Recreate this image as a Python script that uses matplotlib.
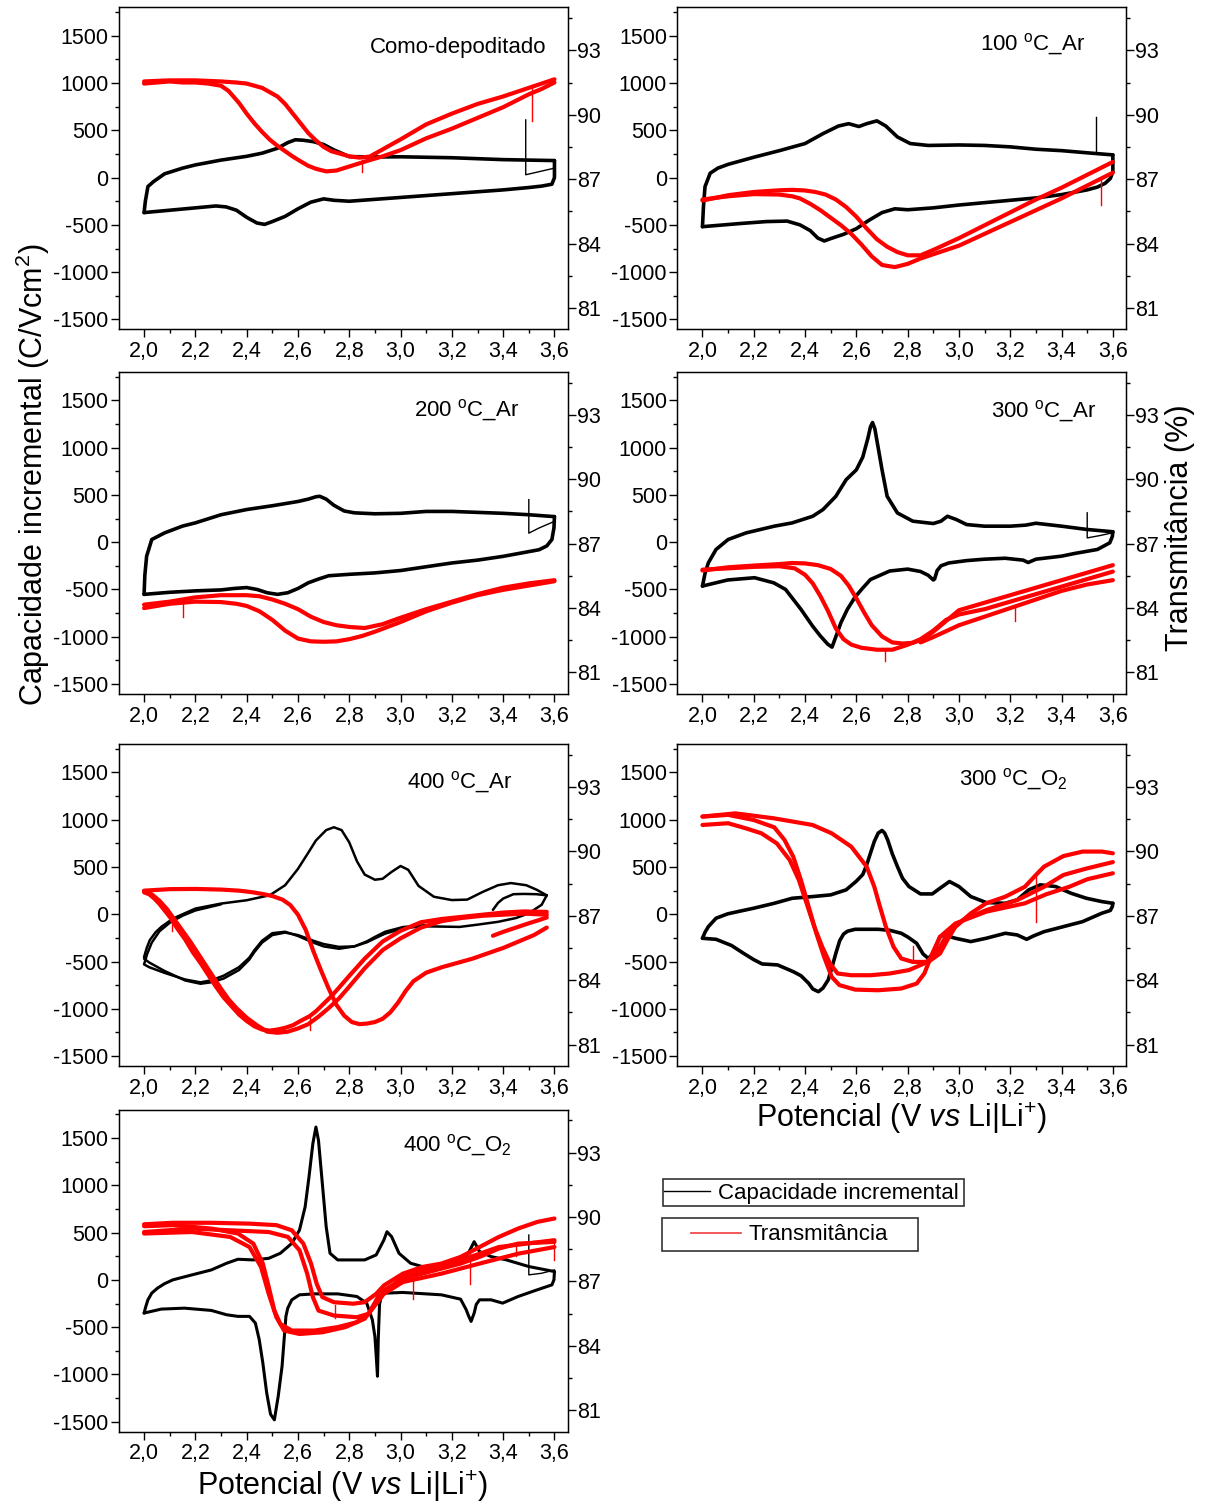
import matplotlib
matplotlib.use('Agg')
import matplotlib.pyplot as plt
from matplotlib.lines import Line2D
from matplotlib.patches import Rectangle
from matplotlib.ticker import MultipleLocator, FuncFormatter

plt.rcParams['font.family'] = ['Liberation Sans', 'DejaVu Sans']
plt.rcParams['mathtext.fontset'] = 'custom'
plt.rcParams['mathtext.rm'] = 'Liberation Sans'
plt.rcParams['mathtext.it'] = 'Liberation Sans:italic'
plt.rcParams['axes.unicode_minus'] = False

# ---------------- dados ----------------
# Como-depoditado
p1_cap_fwd_v = [2.00, 2.005, 2.015, 2.037, 2.08, 2.15, 2.20, 2.30, 2.40, 2.46, 2.52, 2.56, 2.59, 2.62, 2.66, 2.70, 2.74, 2.80, 2.90, 3.00, 3.10, 3.20, 3.30, 3.40, 3.50, 3.60]
p1_cap_fwd = [-370, -250, -95, -42, 40, 100, 134, 185, 225, 258, 310, 370, 400, 395, 380, 350, 293, 222, 218, 220, 215, 210, 200, 190, 185, 180]
p1_cap_rev_v = [3.60, 3.60, 3.59, 3.55, 3.50, 3.40, 3.30, 3.20, 3.10, 3.00, 2.90, 2.80, 2.74, 2.70, 2.65, 2.60, 2.55, 2.50, 2.47, 2.44, 2.40, 2.36, 2.32, 2.28, 2.20, 2.10, 2.00]
p1_cap_rev = [180, 0, -70, -90, -105, -130, -150, -170, -190, -210, -230, -250, -240, -225, -260, -330, -410, -465, -495, -480, -420, -345, -310, -300, -320, -345, -370]
p1_cap_start_v = [3.488, 3.488, 3.52, 3.56, 3.60]
p1_cap_start = [610, 30, 50, 75, 100]
p1_tr_a_v = [2.00, 2.05, 2.10, 2.15, 2.20, 2.25, 2.30, 2.33, 2.37, 2.40, 2.43, 2.46, 2.49, 2.52, 2.55, 2.58, 2.61, 2.64, 2.67, 2.71, 2.75, 2.79, 2.83, 2.87, 2.93, 3.00, 3.10, 3.20, 3.30, 3.40, 3.50, 3.55, 3.60]
p1_tr_a = [91.45, 91.5, 91.55, 91.5, 91.5, 91.45, 91.35, 91.1, 90.55, 90.05, 89.6, 89.2, 88.84, 88.55, 88.3, 88.05, 87.83, 87.62, 87.48, 87.36, 87.4, 87.55, 87.7, 87.85, 88.06, 88.35, 88.9, 89.35, 89.85, 90.35, 90.95, 91.2, 91.5]
p1_tr_b_v = [2.00, 2.10, 2.20, 2.30, 2.36, 2.40, 2.46, 2.52, 2.55, 2.58, 2.61, 2.64, 2.67, 2.70, 2.73, 2.76, 2.80, 2.84, 2.88, 2.94, 3.00, 3.10, 3.20, 3.30, 3.40, 3.50, 3.60]
p1_tr_b = [91.55, 91.6, 91.6, 91.55, 91.5, 91.45, 91.25, 90.85, 90.5, 90.05, 89.6, 89.15, 88.8, 88.5, 88.3, 88.2, 88.06, 88.0, 88.05, 88.45, 88.85, 89.55, 90.05, 90.5, 90.85, 91.25, 91.65]
p1_tr_spike_v = [3.513, 3.513, 2.85, 2.85]
p1_tr_spike = [91.3, 89.7, 87.9, 87.35]

# 100 oC_Ar
p2_cap_fwd_v = [2.00, 2.004, 2.01, 2.03, 2.06, 2.10, 2.20, 2.30, 2.40, 2.47, 2.53, 2.57, 2.61, 2.64, 2.68, 2.715, 2.76, 2.81, 2.88, 3.00, 3.10, 3.20, 3.30, 3.40, 3.50, 3.60]
p2_cap_fwd = [-519, -300, -95, 46, 100, 140, 215, 285, 360, 465, 545, 570, 540, 570, 600, 545, 430, 360, 340, 345, 340, 325, 300, 285, 262, 240]
p2_cap_spike_v = [3.535, 3.535]
p2_cap_spike = [258, 640]
p2_cap_rev_v = [3.60, 3.60, 3.59, 3.57, 3.54, 3.50, 3.40, 3.30, 3.20, 3.10, 3.00, 2.90, 2.80, 2.75, 2.70, 2.65, 2.60, 2.55, 2.50, 2.475, 2.45, 2.42, 2.38, 2.33, 2.25, 2.15, 2.00]
p2_cap_rev = [240, 60, -10, -60, -100, -130, -180, -215, -240, -265, -290, -320, -340, -330, -370, -450, -540, -600, -645, -670, -640, -560, -500, -460, -465, -485, -519]
p2_tr_a_v = [2.00, 2.10, 2.20, 2.30, 2.35, 2.38, 2.42, 2.46, 2.50, 2.54, 2.58, 2.62, 2.66, 2.70, 2.75, 2.80, 2.85, 2.90, 3.00, 3.10, 3.20, 3.30, 3.40, 3.50, 3.60]
p2_tr_a = [86.05, 86.2, 86.3, 86.28, 86.2, 86.1, 85.85, 85.55, 85.2, 84.85, 84.45, 83.95, 83.4, 83.0, 82.9, 83.05, 83.3, 83.5, 83.9, 84.45, 85.0, 85.55, 86.1, 86.7, 87.3]
p2_tr_b_v = [2.00, 2.10, 2.20, 2.30, 2.35, 2.40, 2.44, 2.48, 2.52, 2.56, 2.60, 2.64, 2.68, 2.72, 2.76, 2.80, 2.85, 2.90, 3.00, 3.10, 3.20, 3.30, 3.40, 3.50, 3.60]
p2_tr_b = [86.0, 86.25, 86.4, 86.48, 86.5, 86.47, 86.4, 86.28, 86.05, 85.7, 85.25, 84.7, 84.2, 83.85, 83.6, 83.45, 83.45, 83.7, 84.25, 84.85, 85.45, 86.05, 86.6, 87.2, 87.8]
p2_tr_spike_v = [3.555, 3.555]
p2_tr_spike = [87.05, 85.8]

# 200 oC_Ar
p3_cap_fwd_v = [2.00, 2.003, 2.01, 2.03, 2.08, 2.15, 2.20, 2.30, 2.40, 2.50, 2.60, 2.64, 2.67, 2.685, 2.71, 2.74, 2.78, 2.82, 2.90, 3.00, 3.10, 3.20, 3.30, 3.40, 3.50, 3.60]
p3_cap_fwd = [-552, -350, -148, 28, 98, 170, 204, 290, 345, 385, 430, 455, 480, 485, 455, 390, 330, 310, 300, 305, 325, 325, 315, 305, 290, 270]
p3_cap_rev_v = [3.60, 3.598, 3.59, 3.57, 3.54, 3.50, 3.40, 3.30, 3.20, 3.10, 3.00, 2.90, 2.80, 2.72, 2.68, 2.64, 2.60, 2.56, 2.52, 2.48, 2.44, 2.40, 2.35, 2.30, 2.20, 2.10, 2.00]
p3_cap_rev = [270, 150, 28, -40, -80, -100, -150, -190, -220, -260, -300, -325, -340, -355, -390, -430, -490, -535, -552, -535, -500, -480, -490, -505, -515, -530, -552]
p3_cap_start_v = [3.50, 3.50, 3.54, 3.60]
p3_cap_start = [450, 95, 150, 220]
p3_tr_a_v = [2.00, 2.10, 2.20, 2.30, 2.40, 2.45, 2.50, 2.55, 2.60, 2.65, 2.70, 2.75, 2.80, 2.86, 2.93, 3.00, 3.10, 3.20, 3.30, 3.40, 3.50, 3.60]
p3_tr_a = [84.16, 84.3, 84.5, 84.6, 84.6, 84.55, 84.4, 84.2, 83.95, 83.6, 83.35, 83.2, 83.12, 83.07, 83.25, 83.55, 83.95, 84.3, 84.65, 84.95, 85.15, 85.3]
p3_tr_b_v = [2.00, 2.10, 2.20, 2.30, 2.36, 2.40, 2.45, 2.50, 2.55, 2.60, 2.65, 2.70, 2.75, 2.80, 2.85, 2.90, 3.00, 3.10, 3.20, 3.30, 3.40, 3.50, 3.60]
p3_tr_b = [84.0, 84.2, 84.3, 84.28, 84.2, 84.1, 83.85, 83.45, 82.95, 82.58, 82.45, 82.43, 82.45, 82.55, 82.7, 82.9, 83.35, 83.85, 84.25, 84.6, 84.85, 85.05, 85.25]
p3_tr_spike_v = [2.15, 2.15]
p3_tr_spike = [84.25, 83.6]

# 300 oC_Ar
p4_cap_fwd_v = [2.00, 2.01, 2.023, 2.053, 2.10, 2.17, 2.28, 2.35, 2.43, 2.47, 2.52, 2.56, 2.60, 2.625, 2.645, 2.655, 2.663, 2.672, 2.685, 2.70, 2.72, 2.76, 2.82, 2.90, 2.93, 2.955, 2.99, 3.03, 3.10, 3.20, 3.26, 3.30, 3.40, 3.50, 3.60]
p4_cap_fwd = [-464, -330, -218, -77, 28, 98, 169, 204, 274, 345, 485, 660, 765, 900, 1100, 1220, 1265, 1200, 1000, 767, 485, 309, 222, 197, 222, 274, 239, 186, 169, 169, 180, 200, 169, 134, 110]
p4_cap_rev_v = [3.60, 3.598, 3.588, 3.54, 3.45, 3.40, 3.30, 3.27, 3.25, 3.18, 3.10, 3.03, 2.96, 2.93, 2.915, 2.905, 2.90, 2.88, 2.85, 2.80, 2.73, 2.655, 2.625, 2.595, 2.565, 2.54, 2.52, 2.505, 2.489, 2.459, 2.429, 2.384, 2.354, 2.324, 2.278, 2.203, 2.098, 2.00]
p4_cap_rev = [110, 60, -7, -77, -120, -148, -180, -215, -190, -170, -180, -195, -220, -250, -300, -390, -400, -350, -310, -285, -305, -395, -485, -580, -710, -850, -1000, -1110, -1080, -990, -886, -710, -605, -500, -430, -376, -400, -464]
p4_cap_start_v = [3.50, 3.50, 3.55, 3.60]
p4_cap_start = [310, 45, 70, 100]
p4_tr_a_v = [2.00, 2.10, 2.20, 2.30, 2.36, 2.40, 2.43, 2.46, 2.49, 2.52, 2.55, 2.58, 2.62, 2.68, 2.74, 2.80, 2.85, 2.90, 2.95, 3.00, 3.10, 3.20, 3.30, 3.40, 3.50, 3.60]
p4_tr_a = [85.79, 85.85, 85.92, 85.95, 85.85, 85.55, 85.15, 84.55, 83.85, 83.05, 82.55, 82.3, 82.15, 82.06, 82.06, 82.29, 82.55, 82.95, 83.45, 83.7, 83.95, 84.3, 84.65, 85.0, 85.35, 85.7]
p4_tr_b_v = [2.00, 2.10, 2.20, 2.30, 2.35, 2.40, 2.45, 2.50, 2.54, 2.57, 2.60, 2.63, 2.66, 2.70, 2.74, 2.78, 2.82, 2.86, 2.90, 2.95, 3.00, 3.10, 3.20, 3.30, 3.40, 3.50, 3.60]
p4_tr_b = [85.75, 85.9, 85.98, 86.05, 86.1, 86.08, 86.0, 85.82, 85.5, 85.05, 84.45, 83.8, 83.2, 82.68, 82.4, 82.35, 82.38, 82.55, 82.9, 83.4, 83.9, 84.25, 84.6, 84.95, 85.3, 85.65, 86.0]
p4_tr_c_v = [2.85, 2.90, 3.00, 3.10, 3.20, 3.30, 3.40, 3.50, 3.60]
p4_tr_c = [82.4, 82.65, 83.2, 83.6, 84.0, 84.4, 84.8, 85.1, 85.3]
p4_tr_spike_v = [2.71, 2.71, 3.22, 3.22]
p4_tr_spike = [82.1, 81.55, 84.0, 83.4]

# 400 oC_Ar
p5_cap_fwd_v = [2.00, 2.01, 2.022, 2.045, 2.067, 2.10, 2.127, 2.20, 2.30, 2.40, 2.49, 2.55, 2.60, 2.64, 2.67, 2.71, 2.74, 2.77, 2.80, 2.83, 2.86, 2.90, 2.93, 2.965, 3.00, 3.03, 3.07, 3.13, 3.20, 3.26, 3.32, 3.38, 3.43, 3.49, 3.53, 3.57]
p5_cap_fwd = [-452, -360, -275, -190, -134, -70, -28, 60, 113, 148, 201, 307, 480, 650, 780, 890, 920, 890, 760, 560, 420, 365, 375, 448, 510, 470, 300, 185, 150, 155, 236, 307, 330, 307, 260, 200]
p5_cap_rev_v = [3.57, 3.55, 3.50, 3.45, 3.38, 3.30, 3.23, 3.15, 3.08, 3.01, 2.94, 2.90, 2.87, 2.82, 2.76, 2.70, 2.66, 2.60, 2.55, 2.50, 2.46, 2.43, 2.41, 2.37, 2.31, 2.26, 2.22, 2.16, 2.08, 2.02, 2.00]
p5_cap_rev = [200, 100, 10, -40, -80, -110, -134, -130, -127, -150, -205, -255, -295, -340, -345, -315, -280, -220, -194, -220, -300, -400, -480, -590, -680, -720, -735, -700, -600, -510, -470]
p5_cap2_v = [3.10, 3.01, 2.94, 2.90, 2.87, 2.82, 2.76, 2.70, 2.66, 2.60, 2.55, 2.50, 2.46, 2.43, 2.41, 2.37, 2.31, 2.26, 2.22, 2.16, 2.08, 2.02, 2.00, 2.012, 2.03, 2.06, 2.10, 2.15, 2.20, 2.30]
p5_cap2 = [-115, -135, -185, -240, -285, -340, -365, -340, -300, -230, -185, -200, -280, -380, -460, -560, -650, -700, -720, -690, -620, -560, -530, -420, -300, -180, -90, -15, 40, 105]
p5_cap_inner_v = [3.36, 3.38, 3.40, 3.44, 3.48, 3.53, 3.57]
p5_cap_inner = [46, 120, 166, 212, 215, 212, 200]
p5_tr_a_v = [2.00, 2.02, 2.04, 2.06, 2.08, 2.10, 2.13, 2.16, 2.19, 2.22, 2.25, 2.28, 2.31, 2.34, 2.37, 2.40, 2.43, 2.46, 2.49, 2.52, 2.55, 2.58, 2.61, 2.645, 2.67, 2.70, 2.73, 2.76, 2.80, 2.86, 2.93, 3.00, 3.08, 3.16, 3.24, 3.32, 3.40, 3.48, 3.57]
p5_tr_a = [88.09, 88.0, 87.8, 87.55, 87.25, 86.95, 86.4, 85.9, 85.3, 84.8, 84.25, 83.7, 83.2, 82.8, 82.4, 82.1, 81.85, 81.7, 81.65, 81.7, 81.78, 81.9, 82.1, 82.32, 82.55, 82.9, 83.25, 83.65, 84.2, 85.0, 85.8, 86.3, 86.7, 86.85, 86.95, 87.05, 87.15, 87.2, 87.18]
p5_tr_a2_v = [2.00, 2.03, 2.06, 2.09, 2.12, 2.15, 2.18, 2.21, 2.24, 2.27, 2.30, 2.33, 2.36, 2.40, 2.44, 2.48, 2.52, 2.56, 2.60, 2.64, 2.68, 2.72, 2.76, 2.80, 2.86, 2.93, 3.00, 3.08, 3.16, 3.24, 3.32, 3.40, 3.48, 3.57]
p5_tr_a2 = [88.15, 88.0, 87.7, 87.3, 86.8, 86.3, 85.8, 85.25, 84.7, 84.15, 83.6, 83.1, 82.7, 82.25, 81.9, 81.6, 81.55, 81.6, 81.75, 81.95, 82.3, 82.7, 83.15, 83.7, 84.55, 85.4, 85.95, 86.45, 86.75, 86.9, 87.0, 87.05, 87.1, 87.05]
p5_tr_b_v = [2.00, 2.10, 2.20, 2.30, 2.37, 2.42, 2.46, 2.50, 2.54, 2.57, 2.60, 2.63, 2.66, 2.69, 2.72, 2.75, 2.78, 2.81, 2.84, 2.87, 2.90, 2.93, 2.96, 2.99, 3.02, 3.05, 3.10, 3.16, 3.22, 3.28, 3.34, 3.40, 3.46, 3.52, 3.57]
p5_tr_b = [88.17, 88.24, 88.25, 88.22, 88.17, 88.1, 88.02, 87.92, 87.75, 87.5, 87.05, 86.35, 85.35, 84.45, 83.6, 82.85, 82.35, 82.05, 81.95, 81.98, 82.05, 82.2, 82.5, 82.95, 83.5, 83.95, 84.35, 84.6, 84.8, 85.0, 85.25, 85.5, 85.8, 86.1, 86.45]
p5_tr_start_v = [3.36, 3.40, 3.45, 3.50, 3.54, 3.57]
p5_tr_start = [86.07, 86.25, 86.45, 86.65, 86.8, 86.92]
p5_tr_spike_v = [2.645, 2.645, 2.11, 2.11]
p5_tr_spike = [82.32, 81.7, 86.8, 86.3]

# 300 oC_O2
p6_cap_fwd_v = [2.00, 2.01, 2.023, 2.053, 2.098, 2.15, 2.20, 2.28, 2.35, 2.43, 2.50, 2.56, 2.60, 2.625, 2.64, 2.655, 2.67, 2.685, 2.70, 2.71, 2.722, 2.74, 2.76, 2.78, 2.805, 2.85, 2.896, 2.926, 2.963, 3.00, 3.046, 3.106, 3.18, 3.227, 3.272, 3.317, 3.377, 3.437, 3.497, 3.557, 3.60]
p6_cap_fwd = [-254, -190, -131, -42, 4, 35, 64, 116, 169, 187, 205, 258, 350, 420, 520, 646, 770, 858, 886, 860, 787, 640, 505, 380, 293, 215, 215, 275, 346, 293, 187, 124, 116, 152, 258, 311, 293, 222, 169, 134, 116]
p6_cap_rev_v = [3.60, 3.598, 3.59, 3.557, 3.482, 3.407, 3.332, 3.29, 3.264, 3.227, 3.181, 3.106, 3.046, 2.986, 2.941, 2.925, 2.91, 2.895, 2.88, 2.86, 2.835, 2.80, 2.775, 2.73, 2.685, 2.64, 2.595, 2.565, 2.55, 2.535, 2.52, 2.505, 2.49, 2.47, 2.452, 2.43, 2.414, 2.384, 2.354, 2.293, 2.26, 2.233, 2.20, 2.16, 2.113, 2.053, 2.00]
p6_cap_rev = [116, 81, 40, 11, -78, -131, -184, -230, -265, -219, -201, -254, -289, -254, -219, -240, -342, -430, -466, -420, -307, -240, -201, -170, -159, -159, -159, -180, -210, -280, -413, -560, -695, -780, -819, -790, -730, -650, -607, -536, -530, -526, -480, -413, -330, -265, -254]
p6_tr_l1_v = [2.00, 2.10, 2.17, 2.23, 2.29, 2.34, 2.376, 2.406, 2.436, 2.467, 2.497, 2.527, 2.58, 2.655, 2.73, 2.805, 2.865, 2.90, 2.926, 2.956, 3.016, 3.106, 3.227, 3.332, 3.407, 3.497, 3.60]
p6_tr_l1 = [91.23, 91.31, 91.07, 90.84, 90.37, 89.6, 88.66, 87.58, 86.49, 85.55, 84.78, 84.31, 84.23, 84.23, 84.31, 84.47, 84.78, 85.1, 85.55, 86.18, 86.8, 87.26, 87.73, 88.35, 88.9, 89.2, 89.5]
p6_tr_l2_v = [2.00, 2.10, 2.20, 2.28, 2.32, 2.354, 2.384, 2.414, 2.444, 2.474, 2.504, 2.534, 2.595, 2.685, 2.775, 2.835, 2.865, 2.896, 2.926, 2.986, 3.106, 3.257, 3.34, 3.43, 3.50, 3.60]
p6_tr_l2 = [91.62, 91.7, 91.46, 91.12, 90.53, 89.75, 88.66, 87.42, 86.18, 85.09, 84.15, 83.77, 83.56, 83.53, 83.61, 83.84, 84.31, 85.24, 86.02, 86.64, 87.19, 87.58, 88.0, 88.35, 88.7, 88.98]
p6_tr_r_v = [2.00, 2.128, 2.278, 2.429, 2.504, 2.58, 2.64, 2.67, 2.692, 2.715, 2.745, 2.775, 2.82, 2.88, 2.926, 2.956, 2.986, 3.046, 3.106, 3.181, 3.257, 3.30, 3.332, 3.407, 3.482, 3.557, 3.60]
p6_tr_r = [91.62, 91.77, 91.54, 91.23, 90.84, 90.22, 89.29, 88.35, 87.42, 86.49, 85.55, 85.01, 84.85, 84.85, 85.24, 85.9, 86.49, 87.11, 87.58, 87.89, 88.35, 88.9, 89.29, 89.78, 89.99, 89.99, 89.91]
p6_tr_spike_v = [3.30, 3.30, 2.82, 2.82]
p6_tr_spike = [88.9, 86.7, 84.85, 85.6]

# 400 oC_O2
p7_cap_fwd_v = [2.00, 2.007, 2.015, 2.03, 2.052, 2.08, 2.112, 2.187, 2.262, 2.322, 2.366, 2.426, 2.486, 2.531, 2.576, 2.606, 2.628, 2.643, 2.658, 2.67, 2.68, 2.695, 2.71, 2.725, 2.755, 2.86, 2.905, 2.935, 2.947, 2.965, 2.994, 3.039, 3.084, 3.159, 3.234, 3.264, 3.287, 3.308, 3.353, 3.413, 3.50, 3.60]
p7_cap_fwd = [-351, -280, -211, -140, -88, -40, 0, 53, 105, 176, 218, 211, 228, 281, 386, 527, 773, 1089, 1440, 1616, 1475, 1019, 562, 281, 211, 211, 264, 422, 509, 457, 281, 176, 141, 141, 176, 281, 404, 299, 246, 211, 141, 88]
p7_cap_rev_v = [3.60, 3.598, 3.59, 3.533, 3.458, 3.398, 3.353, 3.308, 3.295, 3.287, 3.275, 3.265, 3.256, 3.234, 3.159, 3.009, 2.935, 2.925, 2.918, 2.913, 2.91, 2.905, 2.90, 2.89, 2.868, 2.83, 2.755, 2.665, 2.606, 2.576, 2.56, 2.553, 2.546, 2.538, 2.523, 2.508, 2.493, 2.478, 2.463, 2.449, 2.434, 2.411, 2.366, 2.322, 2.262, 2.157, 2.067, 2.00]
p7_cap_rev = [88, 0, -53, -105, -176, -246, -211, -211, -260, -351, -439, -380, -316, -204, -158, -133, -141, -170, -260, -632, -1019, -800, -600, -422, -246, -176, -148, -148, -158, -211, -300, -386, -632, -913, -1230, -1480, -1420, -1194, -878, -632, -457, -386, -386, -369, -323, -299, -309, -351]
p7_cap_start_v = [3.50, 3.50, 3.55, 3.60]
p7_cap_start = [474, 53, 70, 105]
p7_tr_a_v = [2.00, 2.112, 2.262, 2.411, 2.516, 2.576, 2.621, 2.651, 2.673, 2.695, 2.74, 2.815, 2.86, 2.905, 2.935, 3.009, 3.084, 3.159, 3.234, 3.308, 3.383, 3.458, 3.533, 3.60]
p7_tr_a = [89.66, 89.73, 89.73, 89.69, 89.62, 89.38, 88.76, 87.83, 86.89, 86.27, 86.03, 85.96, 86.03, 86.42, 86.81, 87.36, 87.67, 87.83, 88.14, 88.6, 89.07, 89.46, 89.77, 89.93]
p7_tr_b_v = [2.00, 2.187, 2.336, 2.486, 2.561, 2.606, 2.636, 2.658, 2.68, 2.74, 2.83, 2.875, 2.912, 2.935, 3.009, 3.084, 3.234, 3.308, 3.383, 3.458, 3.60]
p7_tr_b = [89.3, 89.46, 89.38, 89.3, 89.07, 88.45, 87.36, 86.27, 85.64, 85.41, 85.33, 85.49, 86.11, 86.58, 87.12, 87.36, 87.83, 88.14, 88.53, 88.76, 88.84]
p7_tr_c_v = [2.00, 2.112, 2.262, 2.366, 2.426, 2.463, 2.486, 2.508, 2.531, 2.576, 2.665, 2.755, 2.83, 2.875, 2.912, 3.009, 3.05, 3.084, 3.234, 3.383, 3.60]
p7_tr_c = [89.57, 89.62, 89.46, 89.23, 88.76, 87.83, 86.74, 85.64, 85.02, 84.71, 84.71, 84.87, 85.1, 85.49, 86.27, 87.2, 87.35, 87.51, 87.98, 88.6, 88.92]
p7_tr_d_v = [2.00, 2.187, 2.336, 2.411, 2.456, 2.486, 2.516, 2.546, 2.606, 2.695, 2.785, 2.86, 2.905, 2.935, 3.009, 3.159, 3.308, 3.458, 3.60]
p7_tr_d = [89.23, 89.3, 89.07, 88.6, 87.67, 86.42, 85.33, 84.71, 84.55, 84.63, 84.87, 85.26, 85.96, 86.42, 86.97, 87.36, 87.83, 88.29, 88.6]
p7_tr_spike_v = [3.27, 3.27, 3.05, 3.05, 2.745, 2.745, 3.60, 3.60, 3.45, 3.45]
p7_tr_spike = [88.3, 86.9, 87.35, 86.2, 85.9, 85.3, 88.9, 88.0, 88.75, 88.2]

# ---------------- montagem ----------------
panels = [
    dict(row=0, col=0, label='Como-depoditado', tx=0.560, ty=0.857, lw=2.6,
         cap=[(p1_cap_fwd_v, p1_cap_fwd), (p1_cap_rev_v, p1_cap_rev)],
         thin=[(p1_cap_start_v, p1_cap_start)],
         tr=[(p1_tr_a_v, p1_tr_a), (p1_tr_b_v, p1_tr_b)],
         spikes=[(p1_tr_spike_v, p1_tr_spike)]),
    dict(row=0, col=1, label='100 $^{\\mathregular{o}}$C_Ar', tx=0.675, ty=0.867, lw=2.6,
         cap=[(p2_cap_fwd_v, p2_cap_fwd), (p2_cap_rev_v, p2_cap_rev)],
         thin=[(p2_cap_spike_v, p2_cap_spike)],
         tr=[(p2_tr_a_v, p2_tr_a), (p2_tr_b_v, p2_tr_b)],
         spikes=[(p2_tr_spike_v, p2_tr_spike)]),
    dict(row=1, col=0, label='200 $^{\\mathregular{o}}$C_Ar', tx=0.658, ty=0.863, lw=2.6,
         cap=[(p3_cap_fwd_v, p3_cap_fwd), (p3_cap_rev_v, p3_cap_rev)],
         thin=[(p3_cap_start_v, p3_cap_start)],
         tr=[(p3_tr_a_v, p3_tr_a), (p3_tr_b_v, p3_tr_b)],
         spikes=[(p3_tr_spike_v, p3_tr_spike)]),
    dict(row=1, col=1, label='300 $^{\\mathregular{o}}$C_Ar', tx=0.698, ty=0.859, lw=2.6,
         cap=[(p4_cap_fwd_v, p4_cap_fwd), (p4_cap_rev_v, p4_cap_rev)],
         thin=[(p4_cap_start_v, p4_cap_start)],
         tr=[(p4_tr_a_v, p4_tr_a), (p4_tr_b_v, p4_tr_b), (p4_tr_c_v, p4_tr_c)],
         spikes=[(p4_tr_spike_v, p4_tr_spike)]),
    dict(row=2, col=0, label='400 $^{\\mathregular{o}}$C_Ar', tx=0.641, ty=0.862, lw=1.8,
         cap=[(p5_cap_fwd_v, p5_cap_fwd), (p5_cap_rev_v, p5_cap_rev), (p5_cap2_v, p5_cap2),
              (p5_cap_inner_v, p5_cap_inner)],
         thin=[],
         tr=[(p5_tr_a_v, p5_tr_a), (p5_tr_a2_v, p5_tr_a2), (p5_tr_b_v, p5_tr_b),
             (p5_tr_start_v, p5_tr_start)],
         spikes=[(p5_tr_spike_v, p5_tr_spike)]),
    dict(row=2, col=1, label='300 $^{\\mathregular{o}}$C_O$_{\\mathregular{2}}$', tx=0.627, ty=0.873, lw=2.6,
         cap=[(p6_cap_fwd_v, p6_cap_fwd), (p6_cap_rev_v, p6_cap_rev)],
         thin=[],
         tr=[(p6_tr_l1_v, p6_tr_l1), (p6_tr_l2_v, p6_tr_l2), (p6_tr_r_v, p6_tr_r)],
         spikes=[(p6_tr_spike_v, p6_tr_spike)]),
    dict(row=3, col=0, label='400 $^{\\mathregular{o}}$C_O$_{\\mathregular{2}}$', tx=0.632, ty=0.870, lw=2.2,
         cap=[(p7_cap_fwd_v, p7_cap_fwd), (p7_cap_rev_v, p7_cap_rev)],
         thin=[(p7_cap_start_v, p7_cap_start)],
         tr=[(p7_tr_a_v, p7_tr_a), (p7_tr_b_v, p7_tr_b), (p7_tr_c_v, p7_tr_c), (p7_tr_d_v, p7_tr_d)],
         spikes=[(p7_tr_spike_v, p7_tr_spike)]),
]

col_left = [0.0987, 0.5621]
col_w = 0.3725
row_bottom = [0.7810, 0.5386, 0.2912, 0.0481]
row_h = 0.2141


def virgula(x, pos):
    return f'{x:.1f}'.replace('.', ',')


def pares(v, y):
    # quebra listas de picos (pares de pontos) em segmentos verticais
    return [(v[i:i + 2], y[i:i + 2]) for i in range(0, len(v), 2)]


fig = plt.figure(figsize=(12.05, 15.04), dpi=100)

for p in panels:
    ax = fig.add_axes([col_left[p['col']], row_bottom[p['row']], col_w, row_h])
    for v, y in p['cap']:
        ax.plot(v, y, color='black', lw=p['lw'], solid_joinstyle='round', solid_capstyle='round')
    for v, y in p['thin']:
        ax.plot(v, y, color='black', lw=1.0)
    ax.set_xlim(1.902, 3.652)
    ax.set_ylim(-1605, 1800)
    ax.xaxis.set_major_locator(MultipleLocator(0.2))
    ax.xaxis.set_minor_locator(MultipleLocator(0.1))
    ax.xaxis.set_major_formatter(FuncFormatter(virgula))
    ax.yaxis.set_major_locator(MultipleLocator(500))
    ax.yaxis.set_minor_locator(MultipleLocator(250))
    ax.tick_params(which='both', direction='out', top=False, right=False, labelsize=15.5, width=1)
    ax.tick_params(which='major', length=5.5)
    ax.tick_params(which='minor', length=3)
    ax.tick_params(axis='y', pad=2)
    ax.tick_params(axis='x', pad=3)
    for s in ax.spines.values():
        s.set_linewidth(1.0)

    ax2 = ax.twinx()
    for v, t in p['tr']:
        ax2.plot(v, t, color='#ff0000', lw=3.0, solid_joinstyle='round', solid_capstyle='round')
    for sv, st in p['spikes']:
        for v, t in pares(sv, st):
            ax2.plot(v, t, color='#ff0000', lw=1.0)
    ax2.set_ylim(80, 95)
    ax2.yaxis.set_major_locator(MultipleLocator(3))
    ax2.yaxis.set_minor_locator(MultipleLocator(1.5))
    ax2.tick_params(which='both', direction='out', labelsize=15.5, width=1, pad=1)
    ax2.tick_params(which='major', length=5.5)
    ax2.tick_params(which='minor', length=3)

    ax.text(p['tx'], p['ty'], p['label'], transform=ax.transAxes, fontsize=16,
            ha='left', va='baseline', zorder=10)

fig.text(0.0274, 0.6842, 'Capacidade incremental (C/Vcm$^{\\mathregular{2}}$)', rotation=90,
         ha='center', va='center', fontsize=22)
fig.text(0.979, 0.6493, 'Transmitância (%)', rotation=90, ha='center', va='center', fontsize=22)
xlab = 'Potencial (V $\\mathit{vs}$ Li|Li$^{\\mathregular{+}}$)'
fig.text(0.2842, 0.0060, xlab, ha='center', va='baseline', fontsize=22)
fig.text(0.7481, 0.2509, xlab, ha='center', va='baseline', fontsize=22)

# legendas (duas caixas separadas)
h_cap = Line2D([], [], color='black', lw=1.0)
h_tr = Line2D([], [], color='#f03c3c', lw=1.2)
fig.legend([h_cap], ['Capacidade incremental'], loc='center left',
           bbox_to_anchor=(663.8 / 1205, 1 - 1193.5 / 1504), frameon=False, fontsize=16,
           handlelength=2.1, handletextpad=0.35, borderpad=0, borderaxespad=0)
fig.legend([h_tr], ['Transmitância'], loc='center left',
           bbox_to_anchor=(690.8 / 1205, 1 - 1235 / 1504), frameon=False, fontsize=16,
           handlelength=2.25, handletextpad=0.33, borderpad=0, borderaxespad=0)
fig.add_artist(Rectangle((662.6 / 1205, 1 - 1206 / 1504), 301.4 / 1205, 26.7 / 1504,
                         transform=fig.transFigure, fill=False, edgecolor='#333333', lw=1.2))
fig.add_artist(Rectangle((661.8 / 1205, 1 - 1251 / 1504), 255.9 / 1205, 32.7 / 1504,
                         transform=fig.transFigure, fill=False, edgecolor='#333333', lw=1.2))

fig.savefig('out.png', dpi=100)
